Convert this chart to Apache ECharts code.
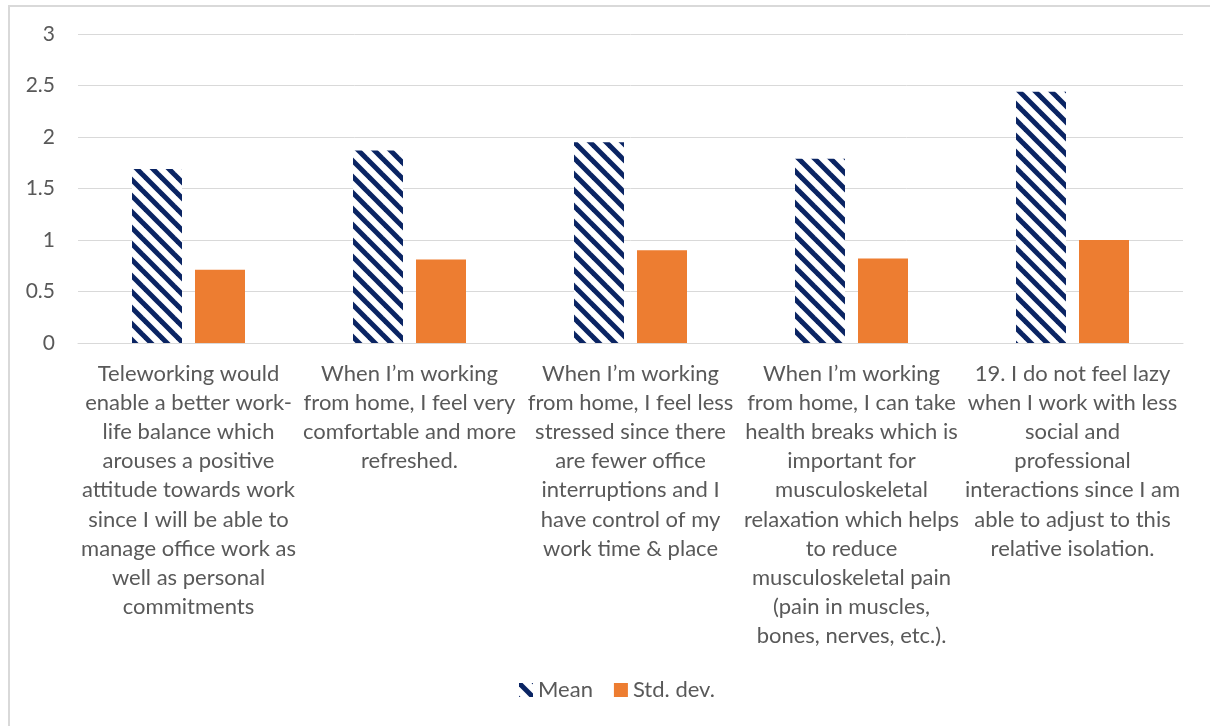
<!DOCTYPE html>
<html>
<head>
<meta charset="utf-8">
<script src="https://cdn.jsdelivr.net/npm/echarts@6/dist/echarts.min.js"></script>
<style>
  html, body { margin: 0; padding: 0; background: #ffffff; }
  #frame { position: absolute; left: 8px; top: 5px; width: 1210px; height: 730px; border-left: 2px solid #d9d9d9; border-top: 2px solid #d9d9d9; box-sizing: border-box; }
  #chart { position: absolute; left: 0; top: 0; width: 1210px; height: 726px; }
</style>
</head>
<body>
<div id="frame"></div>
<div id="chart"></div>
<script>
// Survey statements (axis categories)
const categories = [
  'Teleworking would\nenable a better work-\nlife balance which\narouses a positive\nattitude towards work\nsince I will be able to\nmanage office work as\nwell as personal\ncommitments',
  'When I\u2019m working\nfrom home, I feel very\ncomfortable and more\nrefreshed.',
  'When I\u2019m working\nfrom home, I feel less\nstressed since there\nare fewer office\ninterruptions and I\nhave control of my\nwork time & place',
  'When I\u2019m working\nfrom home, I can take\nhealth breaks which is\nimportant for\nmusculoskeletal\nrelaxation which helps\nto reduce\nmusculoskeletal pain\n(pain in muscles,\nbones, nerves, etc.).',
  '19. I do not feel lazy\nwhen I work with less\nsocial and\nprofessional\ninteractions since I am\nable to adjust to this\nrelative isolation.'
];

// Series values
const meanValues = [1.69, 1.87, 1.95, 1.79, 2.44];
const stdValues = [0.71, 0.81, 0.90, 0.82, 1.00];

// Value axis range
const yMin = 0;
const yMax = 3;
const yStep = 0.5;

// Wide downward-diagonal hatch used for the Mean bars
function makeHatch(color) {
  const size = 16;
  const c = document.createElement('canvas');
  c.width = size; c.height = size;
  const ctx = c.getContext('2d');
  ctx.fillStyle = '#ffffff';
  ctx.fillRect(0, 0, size, size);
  ctx.strokeStyle = color;
  ctx.lineWidth = 5;
  ctx.lineCap = 'square';
  for (let k = -1; k <= 1; k++) {
    ctx.beginPath();
    ctx.moveTo(k * size - 2, -2);
    ctx.lineTo(k * size + size + 2, size + 2);
    ctx.stroke();
  }
  return c;
}

const hatch = makeHatch('#0a2463');
const textColor = '#595959';
const fontFamily = 'Lato, "Open Sans", sans-serif';
const fontSize = 22;

const chart = echarts.init(document.getElementById('chart'), null, { renderer: 'canvas' });
chart.setOption({
  animation: false,
  backgroundColor: 'transparent',
  grid: { left: 78, right: 27, top: 34, bottom: 383, containLabel: false },
  legend: {
    bottom: 20,
    left: 514,
    itemWidth: 14,
    itemHeight: 14,
    itemGap: 21,
    textStyle: { color: textColor, fontSize: fontSize, fontFamily: fontFamily },
    data: [
      { name: 'Mean', icon: 'rect' },
      { name: 'Std. dev.', icon: 'rect' }
    ]
  },
  xAxis: {
    type: 'category',
    data: categories,
    axisLine: { show: true, lineStyle: { color: '#d9d9d9', width: 1 } },
    axisTick: { show: false },
    axisLabel: {
      interval: 0,
      color: textColor,
      fontSize: fontSize,
      lineHeight: 29.2,
      margin: 16,
      fontFamily: fontFamily,
      align: 'center'
    }
  },
  yAxis: {
    type: 'value',
    min: yMin,
    max: yMax,
    interval: yStep,
    axisLine: { show: false },
    axisTick: { show: false },
    splitLine: { lineStyle: { color: '#d9d9d9', width: 1 } },
    axisLabel: { color: textColor, fontSize: 21, margin: 23, fontFamily: fontFamily }
  },
  series: [
    {
      name: 'Mean',
      type: 'bar',
      data: meanValues,
      barWidth: 50,
      barGap: '26%',
      itemStyle: { color: { image: hatch, repeat: 'repeat' } }
    },
    {
      name: 'Std. dev.',
      type: 'bar',
      data: stdValues,
      barWidth: 50,
      itemStyle: { color: '#ed7d31' }
    }
  ]
});
</script>
</body>
</html>
